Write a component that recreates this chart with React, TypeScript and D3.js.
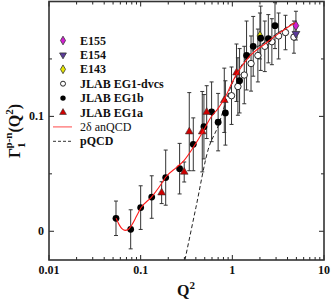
import React from 'react';
import * as d3 from 'd3';

const W = 332;
const H = 300;
const PL = 49, PR = 324, PT = 1.5, PB = 260;

// axis ticks
const xMajor = [0.01, 0.1, 1, 10];
const xMajorLabels = ['0.01', '0.1', '1', '10'];
const yMajor = [0, 0.1];
const yMajorLabels = ['0', '0.1'];
const yMinor = [0.05, 0.15];

// JLAB EG1b (filled circles)
const eg1bQ2 = [0.0538, 0.0778, 0.1, 0.132, 0.1875, 0.266, 0.375, 0.49, 0.594, 0.70, 0.84, 1.2, 1.43, 1.69, 2.04, 2.47, 2.92];
const eg1bG = [0.0113, 0.0017, 0.0206, 0.0298, 0.0467, 0.0545, 0.0757, 0.091, 0.104, 0.095, 0.103, 0.131, 0.153, 0.161, 0.168, 0.1676, 0.179];
const eg1bErr = [0.015, 0.017, 0.019, 0.0185, 0.024, 0.022, 0.023, 0.028, 0.026, 0.025, 0.028, 0.028, 0.03, 0.026, 0.028, 0.021, 0.02];

// JLAB EG1a (red triangles)
const eg1aQ2 = [0.1694, 0.2985, 0.339, 0.47, 0.525, 0.817, 1.11];
const eg1aG = [0.0336, 0.0516, 0.0867, 0.0867, 0.1037, 0.114, 0.138];
const eg1aErr = [0.0095, 0.0087, 0.034, 0.035, 0.023, 0.028, 0.025];

// JLAB EG1-dvcs (open circles)
const dvcsQ2 = [0.98, 1.15, 1.35, 1.6, 1.9, 2.26, 2.7, 3.2, 3.8, 4.7];
const dvcsG = [0.118, 0.126, 0.136, 0.146, 0.153, 0.161, 0.165, 0.17, 0.173, 0.169];
const dvcsErr = [0.025, 0.025, 0.025, 0.024, 0.023, 0.022, 0.02, 0.02, 0.015, 0.014];

// SLAC
const e143Q2 = [2.0];
const e143G = [0.17];
const e143Err = [0.02];
const e154Q2 = [4.94];
const e154G = [0.172];
const e155Q2 = [4.94];
const e155G = [0.179];
const e155Err = [0.0125];

// 2δ anQCD curve
const anQ2 = [0.054, 0.058, 0.062, 0.0675, 0.073, 0.08, 0.09, 0.1, 0.132, 0.162, 0.187, 0.25, 0.3, 0.375, 0.48, 0.57, 0.7, 0.83, 1.0, 1.49, 2.26, 3.45, 4.8];
const anG = [0.0113, 0.006, 0.0025, 0.0008, 0.0015, 0.0055, 0.013, 0.02, 0.03, 0.0394, 0.047, 0.056, 0.062, 0.073, 0.087, 0.098, 0.107, 0.116, 0.13, 0.151, 0.163, 0.174, 0.1815];

// pQCD curve
const pqQ2 = [0.304, 0.4, 0.546, 0.7, 0.94, 1.5, 2.5, 5.0];
const pqG = [-0.025, 0.0204, 0.0713, 0.0916, 0.1235, 0.153, 0.167, 0.183];

const FONT = "'Liberation Serif', 'Times New Roman', serif";

export default function App() {
  const x = d3.scaleLog().domain([0.01, 10]).range([PL, PR]);
  const y = d3.scaleLinear().domain([-0.025, 0.2]).range([PB, PT]);

  const xMinor: number[] = [];
  [0.01, 0.1, 1].forEach((b) => {
    for (let k = 2; k <= 9; k++) xMinor.push(b * k);
  });

  const line = d3
    .line<[number, number]>()
    .x((d) => x(d[0]))
    .y((d) => y(d[1]))
    .curve(d3.curveMonotoneX);

  const anPath = line(anQ2.map((q, i) => [q, anG[i]]) as [number, number][]) || '';
  const pqPath = line(pqQ2.map((q, i) => [q, pqG[i]]) as [number, number][]) || '';

  const errBars = (qs: number[], gs: number[], es: number[], key: string) =>
    qs.map((q, i) => {
      const cx = x(q);
      const y1 = y(gs[i] - es[i]);
      const y2 = y(gs[i] + es[i]);
      return (
        <g key={key + i} stroke="#333" strokeWidth={1}>
          <line x1={cx} x2={cx} y1={y1} y2={y2} />
          <line x1={cx - 2} x2={cx + 2} y1={y1} y2={y1} />
          <line x1={cx - 2} x2={cx + 2} y1={y2} y2={y2} />
        </g>
      );
    });

  const tri = d3.symbol().type(d3.symbolTriangle).size(26)() || '';
  const triSmall = d3.symbol().type(d3.symbolTriangle).size(20)() || '';
  const dia = d3.symbol().type(d3.symbolDiamond).size(28)() || '';
  const diaSmall = d3.symbol().type(d3.symbolDiamond).size(22)() || '';

  const legendItems = [
    { label: 'E155', kind: 'e155' },
    { label: 'E154', kind: 'e154' },
    { label: 'E143', kind: 'e143' },
    { label: 'JLAB EG1-dvcs', kind: 'dvcs' },
    { label: 'JLAB EG1b', kind: 'eg1b' },
    { label: 'JLAB EG1a', kind: 'eg1a' },
    { label: '2\u03b4 anQCD', kind: 'an' },
    { label: 'pQCD', kind: 'pq' },
  ];

  const legendMarker = (kind: string, cx: number, cy: number) => {
    switch (kind) {
      case 'e155':
        return <path d={diaSmall} transform={`translate(${cx},${cy})`} fill="#d21ed2" stroke="#333" strokeWidth={0.8} />;
      case 'e154':
        return <path d={triSmall} transform={`translate(${cx},${cy}) rotate(180)`} fill="#5a3a9a" stroke="#333" strokeWidth={0.8} />;
      case 'e143':
        return <path d={diaSmall} transform={`translate(${cx},${cy})`} fill="#e6e600" stroke="#333" strokeWidth={0.8} />;
      case 'dvcs':
        return <circle cx={cx} cy={cy} r={2.5} fill="#fff" stroke="#111" strokeWidth={0.9} />;
      case 'eg1b':
        return <circle cx={cx} cy={cy} r={2.7} fill="#000" />;
      case 'eg1a':
        return <path d={triSmall} transform={`translate(${cx},${cy})`} fill="#d00000" stroke="#333" strokeWidth={0.6} />;
      case 'an':
        return <line x1={53} x2={72} y1={cy} y2={cy} stroke="#ff6666" strokeWidth={1.2} />;
      default:
        return <line x1={53} x2={72} y1={cy} y2={cy} stroke="#333" strokeWidth={1} strokeDasharray="3,2" />;
    }
  };

  return (
    <svg width={W} height={H} style={{ position: 'absolute', left: 0, top: 0, background: '#fff' }} fontFamily={FONT}>
      <defs>
        <clipPath id="plotclip">
          <rect x={PL} y={PT} width={PR - PL} height={PB - PT} />
        </clipPath>
      </defs>

      {/* ticks */}
      <g stroke="#222" strokeWidth={1}>
        {xMajor.map((t) => (
          <g key={'xm' + t}>
            <line x1={x(t)} x2={x(t)} y1={PB} y2={PB - 5} />
            <line x1={x(t)} x2={x(t)} y1={PT} y2={PT + 5} />
          </g>
        ))}
        {xMinor.map((t) => (
          <g key={'xn' + t}>
            <line x1={x(t)} x2={x(t)} y1={PB} y2={PB - 3} />
            <line x1={x(t)} x2={x(t)} y1={PT} y2={PT + 3} />
          </g>
        ))}
        {yMajor.map((t) => (
          <g key={'ym' + t}>
            <line x1={PL} x2={PL + 5} y1={y(t)} y2={y(t)} />
            <line x1={PR} x2={PR - 5} y1={y(t)} y2={y(t)} />
          </g>
        ))}
        {yMinor.map((t) => (
          <g key={'yn' + t}>
            <line x1={PL} x2={PL + 3} y1={y(t)} y2={y(t)} />
            <line x1={PR} x2={PR - 3} y1={y(t)} y2={y(t)} />
          </g>
        ))}
      </g>

      {/* tick labels */}
      <g fontSize={12} fontWeight="bold" fill="#111">
        {xMajor.map((t, i) => (
          <text key={'xl' + t} x={x(t)} y={274} textAnchor="middle">
            {xMajorLabels[i]}
          </text>
        ))}
        {yMajor.map((t, i) => (
          <text key={'yl' + t} x={44} y={y(t) + 4} textAnchor="end">
            {yMajorLabels[i]}
          </text>
        ))}
      </g>

      {/* axis titles */}
      <text x={186} y={296} textAnchor="middle" fontSize={16} fontWeight="bold" fill="#111">
        Q<tspan dy={-7} fontSize={11}>2</tspan>
      </text>
      <text transform="translate(20,131) rotate(-90)" textAnchor="middle" fontSize={16} fontWeight="bold" fill="#111">
        Γ<tspan dy={5} fontSize={11}>1</tspan>
        <tspan dx={-6} dy={-13} fontSize={11}>p-n</tspan>
        <tspan dy={8}>(Q</tspan>
        <tspan dy={-7} fontSize={11}>2</tspan>
        <tspan dy={7}>)</tspan>
      </text>

      {/* legend */}
      <g fontSize={12} fontWeight="bold" fill="#111">
        {legendItems.map((it, i) => {
          const cy = 40.5 + i * 14.4;
          return (
            <g key={it.label}>
              {legendMarker(it.kind, 63, cy)}
              <text x={80} y={cy + 4} fontWeight={it.kind === 'an' ? 'normal' : 'bold'}>
                {it.label}
              </text>
            </g>
          );
        })}
      </g>

      <g clipPath="url(#plotclip)">
        {/* error bars */}
        {errBars(e143Q2, e143G, e143Err, 'e143')}
        {errBars(e155Q2, e155G, e155Err, 'e155')}
        {errBars(dvcsQ2, dvcsG, dvcsErr, 'dvcs')}
        {errBars(eg1bQ2, eg1bG, eg1bErr, 'eg1b')}
        {errBars(eg1aQ2, eg1aG, eg1aErr, 'eg1a')}

        {/* curves */}
        <path d={pqPath} fill="none" stroke="#222" strokeWidth={1} strokeDasharray="4,2.5" />

        {/* markers */}
        {e143Q2.map((q, i) => (
          <path key={'e143m' + i} d={dia} transform={`translate(${x(q)},${y(e143G[i])})`} fill="#e6e600" stroke="#333" strokeWidth={0.8} />
        ))}
        {dvcsQ2.map((q, i) => (
          <circle key={'dv' + i} cx={x(q)} cy={y(dvcsG[i])} r={3.2} fill="#fff" stroke="#111" strokeWidth={0.9} />
        ))}
        {eg1bQ2.map((q, i) => (
          <circle key={'b' + i} cx={x(q)} cy={y(eg1bG[i])} r={3.4} fill="#000" />
        ))}
        {eg1aQ2.map((q, i) => (
          <path key={'a' + i} d={tri} transform={`translate(${x(q)},${y(eg1aG[i])})`} fill="#d00000" stroke="#333" strokeWidth={0.6} />
        ))}
        {e155Q2.map((q, i) => (
          <path key={'e155m' + i} d={dia} transform={`translate(${x(q)},${y(e155G[i])})`} fill="#d21ed2" stroke="#333" strokeWidth={0.8} />
        ))}
        {e154Q2.map((q, i) => (
          <path key={'e154m' + i} d={tri} transform={`translate(${x(q)},${y(e154G[i])}) rotate(180)`} fill="#5a3a9a" stroke="#333" strokeWidth={0.8} />
        ))}

        <path d={anPath} fill="none" stroke="#ff1a1a" strokeWidth={1.1} />
      </g>

      {/* frame */}
      <rect x={PL} y={PT} width={PR - PL} height={PB - PT} fill="none" stroke="#333" strokeWidth={1.6} />
    </svg>
  );
}
